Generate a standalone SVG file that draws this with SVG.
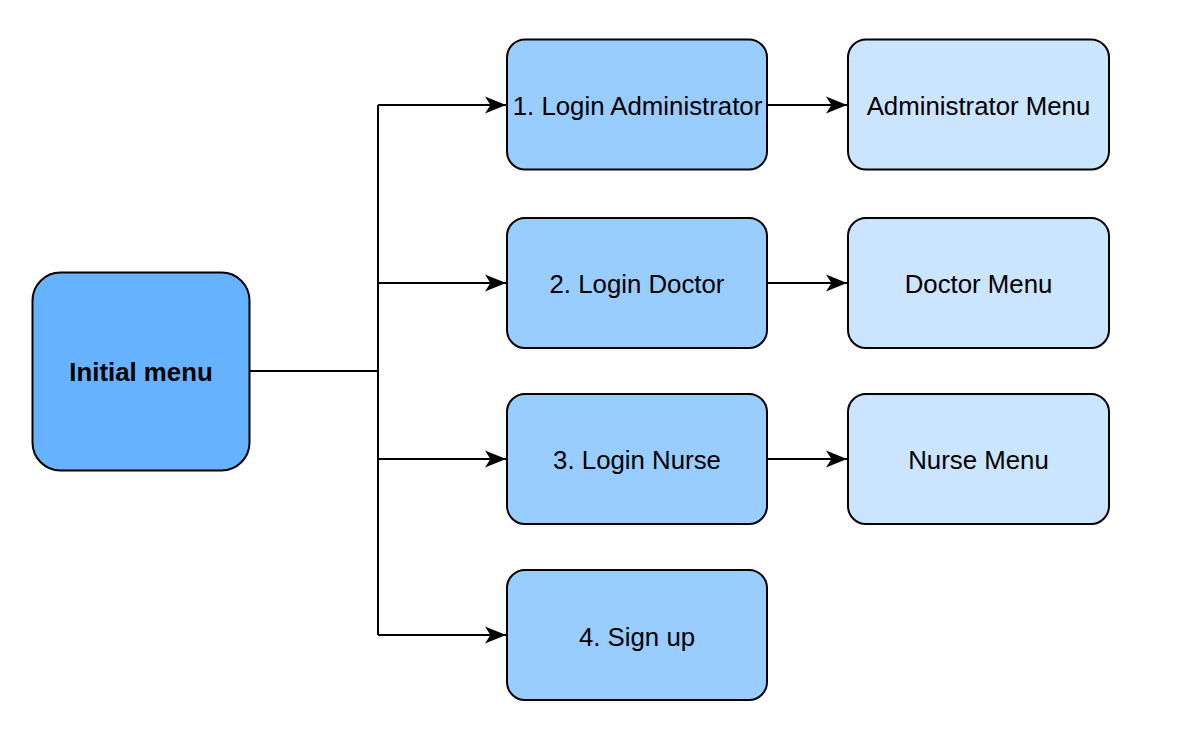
<svg xmlns="http://www.w3.org/2000/svg" width="1194" height="733" viewBox="0 0 1194 733">
<style>
.n{stroke:#000;stroke-width:2}
.t{font-family:"Liberation Sans",Arial,sans-serif;font-size:25.8px;text-anchor:middle;dominant-baseline:central;fill:#000}
.b{font-weight:bold}
.c{fill:none;stroke:#000;stroke-width:2}
</style>
<defs>
<marker id="ah" markerUnits="userSpaceOnUse" markerWidth="24" markerHeight="20" refX="21" refY="10" orient="auto">
<path d="M0,1.5 L21,10 L0,18.5 L5.5,10 Z" fill="#000"/>
</marker>
</defs>
<rect width="1194" height="733" fill="#fff"/>
<g id="connectors">
<path class="c" d="M250,371 H378"/>
<path class="c" d="M378,105 V635"/>
<path class="c" d="M378,105 H506" marker-end="url(#ah)"/>
<path class="c" d="M378,283 H506" marker-end="url(#ah)"/>
<path class="c" d="M378,459 H506" marker-end="url(#ah)"/>
<path class="c" d="M378,635 H506" marker-end="url(#ah)"/>
<path class="c" d="M768,105 H847" marker-end="url(#ah)"/>
<path class="c" d="M768,283 H847" marker-end="url(#ah)"/>
<path class="c" d="M768,459 H847" marker-end="url(#ah)"/>
</g>
<g id="initial">
<rect class="n" x="32.5" y="272.5" width="217" height="198" rx="28" fill="#66B2FF"/>
<text class="t b" x="141" y="372">Initial menu</text>
</g>
<g id="login-admin">
<rect class="n" x="507" y="39.5" width="260" height="130" rx="18" fill="#99CCFF"/>
<text class="t" x="637.5" y="106">1. Login Administrator</text>
</g>
<g id="login-doctor">
<rect class="n" x="507" y="218" width="260" height="130" rx="18" fill="#99CCFF"/>
<text class="t" x="637" y="284">2. Login Doctor</text>
</g>
<g id="login-nurse">
<rect class="n" x="507" y="394" width="260" height="130" rx="18" fill="#99CCFF"/>
<text class="t" x="637" y="460">3. Login Nurse</text>
</g>
<g id="signup">
<rect class="n" x="507" y="570" width="260" height="130" rx="18" fill="#99CCFF"/>
<text class="t" x="637" y="637">4. Sign up</text>
</g>
<g id="admin-menu">
<rect class="n" x="848" y="39.5" width="261" height="130" rx="18" fill="#CCE5FF"/>
<text class="t" x="978.5" y="106">Administrator Menu</text>
</g>
<g id="doctor-menu">
<rect class="n" x="848" y="218" width="261" height="130" rx="18" fill="#CCE5FF"/>
<text class="t" x="978.5" y="284">Doctor Menu</text>
</g>
<g id="nurse-menu">
<rect class="n" x="848" y="394" width="261" height="130" rx="18" fill="#CCE5FF"/>
<text class="t" x="978.5" y="460">Nurse Menu</text>
</g>
</svg>
